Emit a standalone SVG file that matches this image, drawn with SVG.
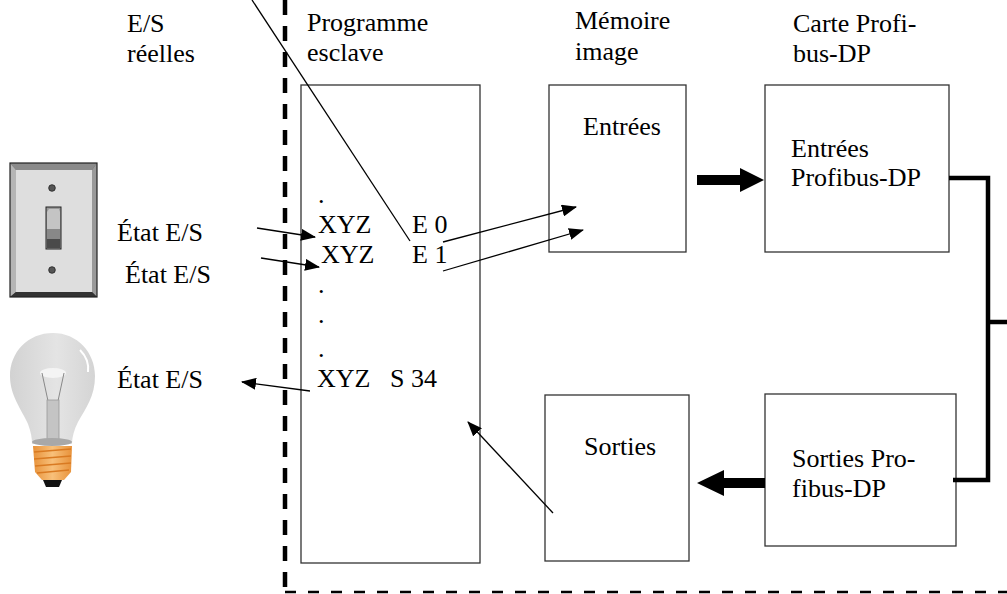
<svg xmlns="http://www.w3.org/2000/svg" width="1007" height="594" viewBox="0 0 1007 594">
  <defs>
    <style>
      text { font-family: "Liberation Serif", "Times New Roman", serif; font-size: 26px; fill: #000; }
      .box { fill: #fff; stroke: #333; stroke-width: 1.3; }
      .thin { fill: none; stroke: #000; stroke-width: 1.3; }
      .bus { fill: none; stroke: #000; stroke-width: 4.5; stroke-linejoin: miter; }
      .fat { fill: #000; stroke: none; }
    </style>
    <marker id="head" markerUnits="userSpaceOnUse" markerWidth="16" markerHeight="12" refX="14" refY="6" orient="auto">
      <path d="M0,0 L15,6 L0,12 Z" fill="#000"/>
    </marker>
    <linearGradient id="glass" x1="0" y1="0" x2="1" y2="0">
      <stop offset="0" stop-color="#d2d2d2"/>
      <stop offset="0.55" stop-color="#e4e4e4"/>
      <stop offset="1" stop-color="#d4d4d4"/>
    </linearGradient>
    <linearGradient id="brass" x1="0" y1="0" x2="1" y2="0">
      <stop offset="0" stop-color="#e8923a"/>
      <stop offset="0.5" stop-color="#f8c07a"/>
      <stop offset="1" stop-color="#e8923a"/>
    </linearGradient>
  </defs>

  <!-- boundary of the slave station -->
  <g id="boundary">
    <line x1="285" y1="0" x2="285" y2="592" stroke="#000" stroke-width="4.5" stroke-dasharray="15 11"/>
    <line x1="285" y1="592" x2="1007" y2="592" stroke="#000" stroke-width="2.5" stroke-dasharray="11 12"/>
  </g>

  <!-- column headings -->
  <g id="headings">
    <text x="127" y="32">E/S</text>
    <text x="127" y="62">réelles</text>
    <text x="307" y="31">Programme</text>
    <text x="307" y="61">esclave</text>
    <text x="575" y="29">Mémoire</text>
    <text x="575" y="60">image</text>
    <text x="793" y="32">Carte Profi-</text>
    <text x="793" y="62">bus-DP</text>
  </g>

  <!-- wall switch -->
  <g id="switch">
    <rect x="10" y="163" width="87" height="134" fill="#555"/>
    <polygon points="10,163 97,163 92,170 16,170" fill="#8a8a8a"/>
    <polygon points="10,163 16,170 16,292 10,297" fill="#b5b5b5"/>
    <polygon points="97,163 97,297 92,292 92,170" fill="#9a9a9a"/>
    <polygon points="10,297 97,297 92,292 16,292" fill="#333"/>
    <rect x="16" y="170" width="76" height="122" fill="#dedede"/>
    <rect x="10" y="163" width="87" height="134" fill="none" stroke="#222" stroke-width="1.2"/>
    <circle cx="52" cy="188" r="3.3" fill="#555" stroke="#222" stroke-width="0.8"/>
    <circle cx="52" cy="270" r="3.3" fill="#555" stroke="#222" stroke-width="0.8"/>
    <rect x="46" y="207" width="15" height="42" fill="#999" stroke="#222" stroke-width="1"/>
    <polygon points="47,212 49,209 59,209 60,212 60,229 47,229" fill="#c4c4c4"/>
    <rect x="47" y="229" width="13" height="10" fill="#888"/>
    <rect x="47" y="239" width="13" height="9" fill="#4a4a4a"/>
  </g>

  <!-- light bulb -->
  <g id="bulb">
    <path d="M53,333 C28,333 10,352 10,376 C10,396 22,410 28,424 C31,432 32,438 32,444 L72,444 C72,437 74,430 78,422 C86,408 95,396 95,376 C95,352 77,333 53,333 Z" fill="url(#glass)"/>
    <path d="M80,350 C86,356 89,364 88,372" fill="none" stroke="#fff" stroke-width="2"/>
    <ellipse cx="53" cy="373" rx="13" ry="5" fill="#f4f4f4"/>
    <path d="M42,373 L48,401 L48,439 M64,373 L58,401 L58,439" fill="none" stroke="#888" stroke-width="1"/>
    <rect x="47" y="400" width="12" height="40" fill="#c4c4c4" stroke="#9a9a9a" stroke-width="0.8"/>
    <ellipse cx="52" cy="442" rx="20" ry="4" fill="#a8a8a8"/>
    <path d="M33,446 L72,446 L71,472 L64,480 L42,480 L35,472 Z" fill="url(#brass)"/>
    <path d="M34,452 L71,449 M34,459 L71,456 M35,466 L71,463 M37,473 L69,470" stroke="#d97a22" stroke-width="1.6"/>
    <path d="M43,480 L62,480 L59,487 L46,487 Z" fill="#111"/>
  </g>

  <!-- process image labels -->
  <g id="io-labels">
    <text x="117" y="241">État E/S</text>
    <text x="125" y="283">État E/S</text>
    <text x="117" y="388">État E/S</text>
  </g>

  <!-- slave program -->
  <g id="programme">
    <rect class="box" x="301" y="85" width="179" height="478"/>
    <text x="318" y="203">.</text>
    <text x="318" y="233">XYZ</text>
    <text x="412" y="233">E 0</text>
    <text x="321" y="263">XYZ</text>
    <text x="412" y="263">E 1</text>
    <text x="318" y="293">.</text>
    <text x="318" y="323">.</text>
    <text x="318" y="357">.</text>
    <text x="317" y="387">XYZ</text>
    <text x="390" y="387">S 34</text>
  </g>

  <!-- image memory -->
  <g id="entrees">
    <rect class="box" x="549" y="85" width="137" height="167"/>
    <text x="583" y="135">Entrées</text>
  </g>
  <g id="sorties">
    <rect class="box" x="545" y="395" width="144" height="166"/>
    <text x="584" y="455">Sorties</text>
  </g>

  <!-- Profibus-DP card -->
  <g id="dp-entrees">
    <rect class="box" x="765" y="85" width="184" height="167"/>
    <text x="791" y="157">Entrées</text>
    <text x="791" y="186">Profibus-DP</text>
  </g>
  <g id="dp-sorties">
    <rect class="box" x="765" y="394" width="191" height="152"/>
    <text x="792" y="467">Sorties Pro-</text>
    <text x="792" y="497">fibus-DP</text>
  </g>

  <!-- connectors -->
  <g id="connectors">
    <line class="thin" x1="252" y1="0" x2="410" y2="241"/>
    <line class="thin" x1="257" y1="228" x2="315" y2="237" marker-end="url(#head)"/>
    <line class="thin" x1="261" y1="258" x2="319" y2="267" marker-end="url(#head)"/>
    <line class="thin" x1="443" y1="242" x2="576" y2="207" marker-end="url(#head)"/>
    <line class="thin" x1="443" y1="271" x2="583" y2="230" marker-end="url(#head)"/>
    <line class="thin" x1="310" y1="391" x2="242" y2="382" marker-end="url(#head)"/>
    <line class="thin" x1="553" y1="513" x2="468" y2="422" marker-end="url(#head)"/>
    <polygon class="fat" points="697,175 740,175 740,168 764,180 740,192 740,185 697,185"/>
    <polygon class="fat" points="765,478 724,478 724,470 697,483 724,496 724,488 765,488"/>
    <path class="bus" d="M949,178 H988 V480 H953"/>
    <line class="bus" x1="988" y1="322" x2="1007" y2="322"/>
  </g>
</svg>
